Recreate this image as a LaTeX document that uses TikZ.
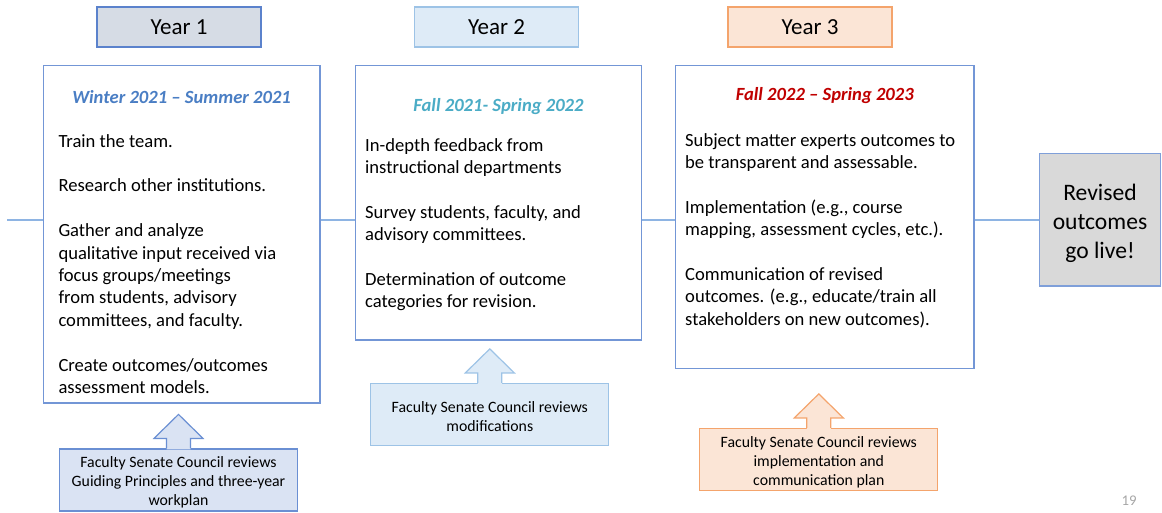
\documentclass[tikz,border=0pt]{standalone}
\usepackage{fontspec}
\setmainfont{Carlito}
\usepackage{xcolor}
\usetikzlibrary{positioning, calc}
\definecolor{frameblue}{HTML}{7396D6}
\definecolor{lineblue}{HTML}{8EB4E3}
\definecolor{slatefill}{HTML}{D6DCE5}
\definecolor{slateedge}{HTML}{5B82CC}
\definecolor{skyfill}{HTML}{DEEBF7}
\definecolor{skyedge}{HTML}{9DC3E6}
\definecolor{peachfill}{HTML}{FBE5D6}
\definecolor{peachedge}{HTML}{F4A46C}
\definecolor{navyfill}{HTML}{DAE3F3}
\definecolor{navyedge}{HTML}{6A8FD3}
\definecolor{revfill}{HTML}{D9D9D9}
\definecolor{revedge}{HTML}{7F9FD9}
\definecolor{hblue}{HTML}{4A7EC4}
\definecolor{hteal}{HTML}{4BACC6}
\definecolor{hred}{HTML}{C00000}
\definecolor{pagegray}{HTML}{A6A6A6}

\begin{document}
\begin{tikzpicture}[x=1pt, y=-1pt,
  yearbox/.style={draw, line width=1.2pt, minimum width=164pt, minimum height=40pt, inner sep=0pt, font=\fontsize{23}{28}\selectfont},
  mainbox/.style={draw=frameblue, line width=1.2pt, fill=white, inner sep=0pt, anchor=north west},
  headtext/.style={font=\fontsize{18.6}{22.4}\selectfont\bfseries\itshape, inner sep=0pt, anchor=base},
  bodytext/.style={font=\fontsize{18.6}{22.4}\selectfont, align=left, inner sep=0pt, anchor=north west},
  notebox/.style={draw, line width=1.2pt, minimum width=238pt, minimum height=62pt, inner sep=0pt},
  notetext/.style={align=center, inner sep=0pt, yshift=-2.5pt, font=\fontsize{15.8}{19}\selectfont},
  timeline/.style={draw=lineblue, line width=1.5pt}
]
  \useasboundingbox (0,0) rectangle (1162,512);

  % year labels
  \node[yearbox, draw=slateedge, fill=slatefill] (y1) at (179,27) {Year 1};
  \node[yearbox, draw=skyedge, fill=skyfill] (y2) at (496.5,27) {Year 2};
  \node[yearbox, draw=peachedge, fill=peachfill] (y3) at (810,27) {Year 3};

  % main boxes
  \node[mainbox, minimum width=276.6pt, minimum height=337.3pt] (b1) at (42.7,65) {};
  \node[mainbox, minimum width=285.7pt, minimum height=274.3pt] (b2) at (355,65) {};
  \node[mainbox, minimum width=298.3pt, minimum height=303pt] (b3) at (675,65) {};
  \node[draw=revedge, fill=revfill, line width=1.2pt, minimum width=121.4pt, minimum height=132.7pt, inner sep=0pt] (rev) at (1100,219.7) {};
  \node[align=center, inner sep=0pt, yshift=-3.5pt, font=\fontsize{23.6}{29}\selectfont] (revtext) at (rev.center) {Revised\\ outcomes\\ go live!};

  % timeline
  \coordinate (tstart) at (7,220);
  \draw[timeline] (tstart) -- (tstart -| b1.west);
  \draw[timeline] (tstart -| b1.east) -- (tstart -| b2.west);
  \draw[timeline] (tstart -| b2.east) -- (tstart -| b3.west);
  \draw[timeline] (tstart -| b3.east) -- (tstart -| rev.west);

  % box contents
  \node[headtext, text=hblue] (h1) at (b1.north |- 0,103.5) {Winter 2021 -- Summer 2021};
  \node[headtext, text=hteal] (h2) at (b2.north |- 0,111.5) {Fall 2021- Spring 2022};
  \node[headtext, text=hred] (h3) at (b3.north |- 0,100.5) {Fall 2022 -- Spring 2023};

  \node[bodytext] (t1) at (58.3,134) {Train the team.\\[22.4pt] Research other institutions.\\[22.4pt] Gather and analyze\\ qualitative input received via\\ focus groups/meetings\\ from students, advisory\\ committees, and faculty.\\[22.4pt] Create outcomes/outcomes\\ assessment models.};
  \node[bodytext] (t2) at (365,138) {In-depth feedback from\\ instructional departments\\[22.4pt] Survey students, faculty, and\\ advisory committees.\\[22.4pt] Determination of outcome\\ categories for revision.};
  \node[bodytext] (t3) at (685,133) {Subject matter experts outcomes to\\ be transparent and assessable.\\[22.4pt] Implementation (e.g., course\\ mapping, assessment cycles, etc.).\\[22.4pt] Communication of revised\\ outcomes. (e.g., educate/train all\\ stakeholders on new outcomes).};

  % review notes
  \node[notebox, draw=navyedge, fill=navyfill] (n1) at (178.5,480) {};
  \node[notebox, draw=skyedge, fill=skyfill] (n2) at (489.8,414.5) {};
  \node[notebox, draw=peachedge, fill=peachfill] (n3) at (818.8,459.5) {};
  \node[notetext] (m1) at (n1.center) {Faculty Senate Council reviews\\ Guiding Principles and three-year\\ workplan};
  \node[notetext] (m2) at (n2.center) {Faculty Senate Council reviews\\ modifications};
  \node[notetext] (m3) at (n3.center) {Faculty Senate Council reviews\\ implementation and\\ communication plan};

  \foreach \n/\c/\e in {n1/navyfill/navyedge, n2/skyfill/skyedge, n3/peachfill/peachedge} {
    \fill[\c] ($(\n.north)+(-12,0.9)$) -- ($(\n.north)+(-12,-10)$) -- ($(\n.north)+(-24.5,-10)$) -- ($(\n.north)+(0,-34)$)
      -- ($(\n.north)+(24.5,-10)$) -- ($(\n.north)+(12,-10)$) -- ($(\n.north)+(12,0.9)$) -- cycle;
    \draw[\e, line width=1.2pt, line join=miter] ($(\n.north)+(-12,0)$) -- ($(\n.north)+(-12,-10)$) -- ($(\n.north)+(-24.5,-10)$) -- ($(\n.north)+(0,-34)$)
      -- ($(\n.north)+(24.5,-10)$) -- ($(\n.north)+(12,-10)$) -- ($(\n.north)+(12,0)$);
  }

  \node[font=\fontsize{14.8}{17}\selectfont, text=pagegray, anchor=base, inner sep=0pt] (pg) at (1129,505) {19};
\end{tikzpicture}
\end{document}
